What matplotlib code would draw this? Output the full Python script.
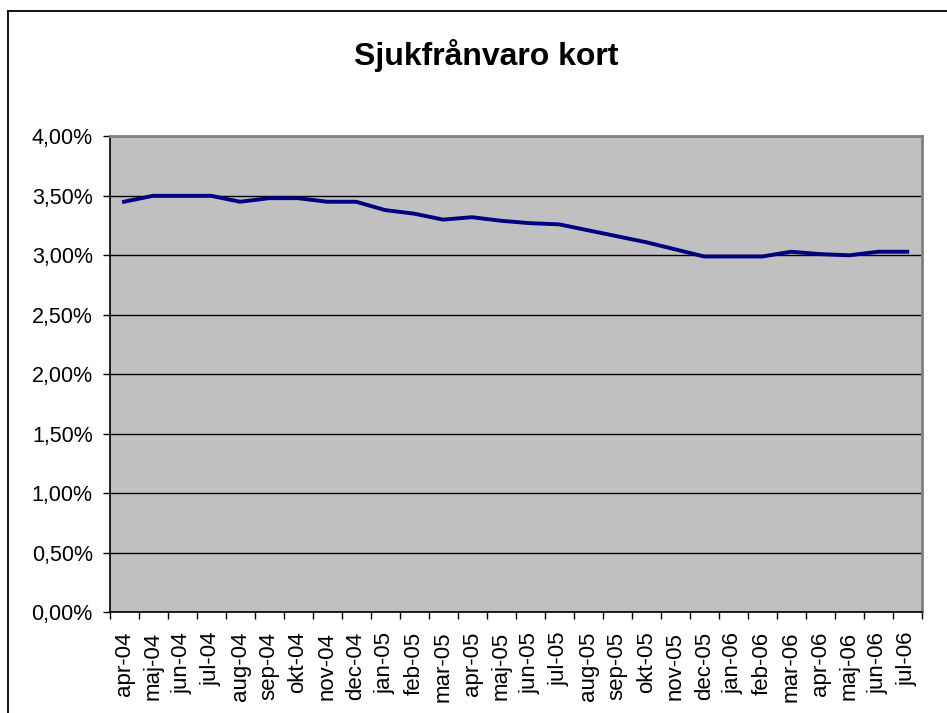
import matplotlib.pyplot as plt
from matplotlib.lines import Line2D
import numpy as np

plt.rcParams['font.family'] = ['Liberation Sans', 'DejaVu Sans']

months = ['apr-04', 'maj-04', 'jun-04', 'jul-04', 'aug-04', 'sep-04', 'okt-04',
          'nov-04', 'dec-04', 'jan-05', 'feb-05', 'mar-05', 'apr-05', 'maj-05',
          'jun-05', 'jul-05', 'aug-05', 'sep-05', 'okt-05', 'nov-05', 'dec-05',
          'jan-06', 'feb-06', 'mar-06', 'apr-06', 'maj-06', 'jun-06', 'jul-06']
# sick leave, short term (percent)
values = [3.45, 3.50, 3.50, 3.50, 3.45, 3.48, 3.48, 3.45, 3.45, 3.38, 3.35,
          3.30, 3.32, 3.29, 3.27, 3.26, 3.21, 3.16, 3.11, 3.05, 2.99, 2.99,
          2.99, 3.03, 3.01, 3.00, 3.03, 3.03]
y_ticks = [0.0, 0.5, 1.0, 1.5, 2.0, 2.5, 3.0, 3.5, 4.0]
y_labels = ['0,00%', '0,50%', '1,00%', '1,50%', '2,00%', '2,50%', '3,00%', '3,50%', '4,00%']
title = 'Sjukfrånvaro kort'

W, H = 947, 713
fig = plt.figure(figsize=(W / 100, H / 100), dpi=100)
ax = fig.add_axes([109.5 / W, 1 - 612.3 / H, (921.7 - 109.5) / W, (612.3 - 136.3) / H])
ax.set_facecolor('#C0C0C0')

x = np.arange(len(months))
ax.plot(x, values, color='#000080', lw=2.8, solid_joinstyle='round', zorder=3)

ax.set_xlim(-0.5, len(months) - 0.5)
ax.set_ylim(0, 4)

# y axis
ax.set_yticks(y_ticks)
ax.set_yticklabels(y_labels, fontsize=15.5)
ax.yaxis.grid(True, color='black', lw=1.0)
ax.set_axisbelow(True)
ax.tick_params(axis='y', length=5, width=1, pad=7)

# x axis: ticks at category borders, labels in the middle
ax.set_xticks(x)
ax.set_xticklabels(months, rotation=90, fontsize=16)
ax.set_xticks(np.arange(len(months) + 1) - 0.5, minor=True)
ax.tick_params(axis='x', which='major', length=0, pad=14)
ax.tick_params(axis='x', which='minor', length=5, width=1)

for s in ['left', 'bottom']:
    ax.spines[s].set_color('black')
    ax.spines[s].set_linewidth(1.2)
for s in ['top', 'right']:
    ax.spines[s].set_color('#808080')
    ax.spines[s].set_linewidth(2)

fig.text(486 / W, 1 - 55 / H, title, ha='center', va='center',
         fontsize=23, fontweight='bold')

# outer chart frame (cut off on the right and bottom)
fig.add_artist(Line2D([8 / W, 8 / W], [0, 1 - 10.5 / H], transform=fig.transFigure,
                      color='black', lw=1.3))
fig.add_artist(Line2D([8 / W, 1], [1 - 10.5 / H, 1 - 10.5 / H], transform=fig.transFigure,
                      color='black', lw=1.3))

fig.savefig('out.png', dpi=100)
